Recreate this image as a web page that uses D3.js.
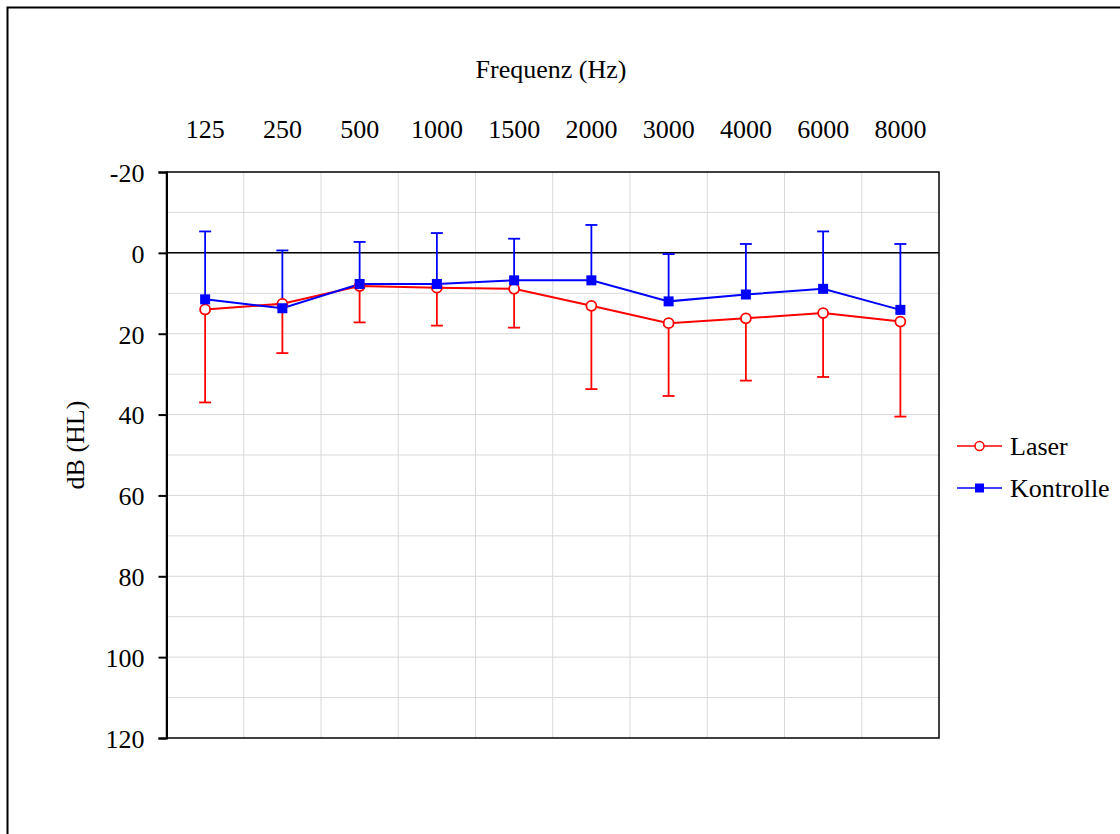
<!DOCTYPE html>
<html lang="de">
<head>
<meta charset="utf-8">
<title>Audiogramm Laser / Kontrolle</title>
<script src="https://d3js.org/d3.v7.min.js"></script>
<style>
  body { margin: 0; background: #fff; }
  svg text { font-family: "Liberation Serif", "Times New Roman", serif; fill: #000; }
</style>
</head>
<body>
<svg id="chart" width="1120" height="834"></svg>
<script>
// Frequenzen (Kategorien) und Messwerte
const frequenzen = ["125", "250", "500", "1000", "1500", "2000", "3000", "4000", "6000", "8000"];
const laserMittel = [14.0, 12.6, 8.2, 8.6, 8.9, 13.1, 17.4, 16.2, 14.9, 17.0];
const laserSD = [23.0, 12.2, 9.0, 9.4, 9.6, 20.6, 18.0, 15.4, 15.8, 23.5];
const kontrolleMittel = [11.5, 13.7, 7.7, 7.7, 6.8, 6.8, 12.0, 10.3, 8.9, 14.1];
const kontrolleSD = [16.8, 14.3, 10.4, 12.6, 10.3, 13.7, 11.7, 12.5, 14.2, 16.3];
const yTicks = [-20, 0, 20, 40, 60, 80, 100, 120];

const svg = d3.select("#chart");

// Rahmen um das ganze Diagramm
svg.append("rect")
  .attr("x", 7.5).attr("y", 7.5)
  .attr("width", 1300).attr("height", 1000)
  .attr("fill", "none").attr("stroke", "#000").attr("stroke-width", 2);

const plot = { left: 166.5, top: 172, right: 939, bottom: 738 };

const x = d3.scaleBand().domain(frequenzen).range([plot.left, plot.right]);
const y = d3.scaleLinear().domain([-20, 120]).range([plot.top, plot.bottom]);
const cx = f => x(f) + x.bandwidth() / 2;

// Gitternetz
const grid = svg.append("g");
grid.selectAll("line.v")
  .data(frequenzen.slice(1))
  .join("line")
  .attr("x1", f => x(f)).attr("x2", f => x(f))
  .attr("y1", plot.top).attr("y2", plot.bottom)
  .attr("stroke", "#d9d9d9").attr("stroke-width", 1);
grid.selectAll("line.h")
  .data(d3.range(-10, 120, 10))
  .join("line")
  .attr("x1", plot.left).attr("x2", plot.right)
  .attr("y1", d => y(d)).attr("y2", d => y(d))
  .attr("stroke", "#d9d9d9").attr("stroke-width", 1);

// Nulllinie
svg.append("line")
  .attr("x1", plot.left).attr("x2", plot.right)
  .attr("y1", y(0)).attr("y2", y(0))
  .attr("stroke", "#000").attr("stroke-width", 1.5);

// Plotrahmen
svg.append("rect")
  .attr("x", plot.left).attr("y", plot.top)
  .attr("width", plot.right - plot.left).attr("height", plot.bottom - plot.top)
  .attr("fill", "none").attr("stroke", "#000").attr("stroke-width", 1.5);

// Y-Achse
const yAxis = svg.append("g")
  .attr("transform", `translate(${plot.left},0)`)
  .call(d3.axisLeft(y).tickValues(yTicks).tickFormat(d => String(d)).tickSize(8).tickPadding(14));
yAxis.select(".domain").attr("stroke-width", 2);
yAxis.selectAll(".tick line").attr("stroke-width", 2);
yAxis.selectAll("text").style("font-size", "26px").attr("dy", "0.36em");

// X-Achse oben (nur Beschriftungen)
const xAxis = svg.append("g")
  .attr("transform", `translate(0,${plot.top})`)
  .call(d3.axisTop(x).tickSize(0).tickPadding(34));
xAxis.select(".domain").remove();
xAxis.selectAll("text").style("font-size", "26px");

svg.append("text")
  .attr("x", 551).attr("y", 78)
  .attr("text-anchor", "middle")
  .style("font-size", "26px")
  .text("Frequenz (Hz)");

svg.append("text")
  .attr("transform", "translate(84,445) rotate(-90)")
  .attr("text-anchor", "middle")
  .style("font-size", "26px")
  .text("dB (HL)");

const serien = [
  { name: "Laser", farbe: "#ff0000", mittel: laserMittel, sd: laserSD, richtung: 1, marker: "kreis" },
  { name: "Kontrolle", farbe: "#0000ff", mittel: kontrolleMittel, sd: kontrolleSD, richtung: -1, marker: "quadrat" }
];

const line = d3.line().x(d => cx(d.f)).y(d => y(d.v));

serien.forEach(s => {
  const punkte = frequenzen.map((f, i) => ({ f: f, v: s.mittel[i], sd: s.sd[i] }));
  const g = svg.append("g");

  // Fehlerbalken (nur in eine Richtung)
  g.selectAll("line.err")
    .data(punkte).join("line")
    .attr("x1", d => cx(d.f)).attr("x2", d => cx(d.f))
    .attr("y1", d => y(d.v)).attr("y2", d => y(d.v + s.richtung * d.sd))
    .attr("stroke", s.farbe).attr("stroke-width", 1.8);
  g.selectAll("line.cap")
    .data(punkte).join("line")
    .attr("x1", d => cx(d.f) - 6).attr("x2", d => cx(d.f) + 6)
    .attr("y1", d => y(d.v + s.richtung * d.sd)).attr("y2", d => y(d.v + s.richtung * d.sd))
    .attr("stroke", s.farbe).attr("stroke-width", 1.8);

  g.append("path")
    .datum(punkte)
    .attr("d", line)
    .attr("fill", "none").attr("stroke", s.farbe).attr("stroke-width", 2);
});

// Marker separat, damit Kontrolle über Laser liegt
serien.forEach(s => {
  const punkte = frequenzen.map((f, i) => ({ f: f, v: s.mittel[i] }));
  if (s.marker === "kreis") {
    svg.append("g").selectAll("circle")
      .data(punkte).join("circle")
      .attr("cx", d => cx(d.f)).attr("cy", d => y(d.v)).attr("r", 5)
      .attr("fill", "#fff").attr("stroke", s.farbe).attr("stroke-width", 1.8);
  } else {
    svg.append("g").selectAll("rect")
      .data(punkte).join("rect")
      .attr("x", d => cx(d.f) - 5).attr("y", d => y(d.v) - 5)
      .attr("width", 10).attr("height", 10)
      .attr("fill", s.farbe);
  }
});

// Legende
const legend = svg.append("g").attr("transform", "translate(957,446)");
serien.forEach((s, i) => {
  const row = legend.append("g").attr("transform", `translate(0,${i * 42})`);
  row.append("line").attr("x1", 0).attr("x2", 45).attr("y1", 0).attr("y2", 0)
    .attr("stroke", s.farbe).attr("stroke-width", 1.5);
  if (s.marker === "kreis") {
    row.append("circle").attr("cx", 22.5).attr("cy", 0).attr("r", 4.5)
      .attr("fill", "#fff").attr("stroke", s.farbe).attr("stroke-width", 1.5);
  } else {
    row.append("rect").attr("x", 18).attr("y", -4.5).attr("width", 9).attr("height", 9)
      .attr("fill", s.farbe);
  }
  row.append("text").attr("x", 53).attr("y", 0).attr("dy", "0.33em")
    .style("font-size", "26px").text(s.name);
});
</script>
</body>
</html>
